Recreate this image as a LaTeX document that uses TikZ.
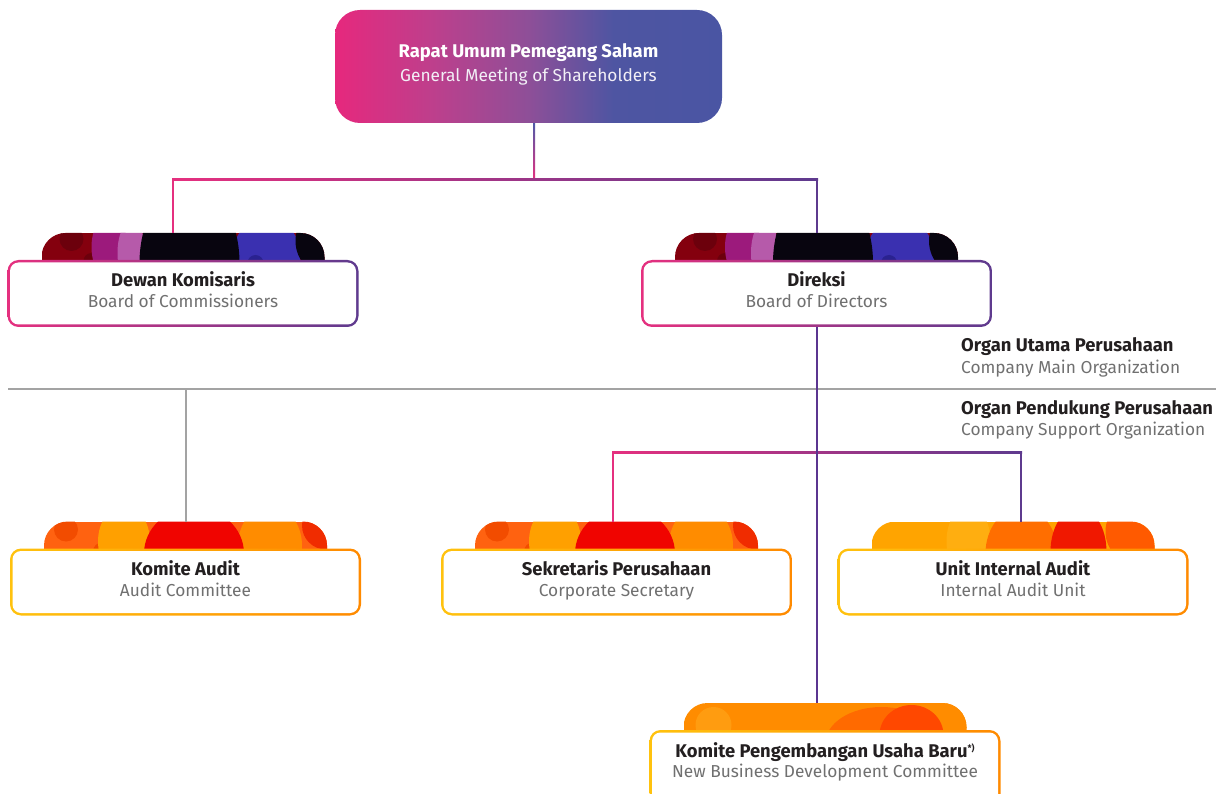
\documentclass[tikz,border=0pt]{standalone}
\usepackage{fontspec}
\setmainfont{Fira Sans}
\usetikzlibrary{calc,backgrounds}

% palette
\definecolor{ink}{HTML}{231F20}
\definecolor{subgray}{HTML}{707070}
\definecolor{rulegray}{HTML}{A3A3A3}
\definecolor{pinkc}{HTML}{E5307F}
\definecolor{bluec}{HTML}{4F5AA8}
\definecolor{purplec}{HTML}{5E3A8E}
\definecolor{stemc}{HTML}{5B3590}
\definecolor{goldc}{HTML}{FFC20E}
\definecolor{ambc}{HTML}{FFA800}
\definecolor{orgc}{HTML}{FF8A00}

% header box
\definecolor{r0}{HTML}{E6287D}\definecolor{r1}{HTML}{BE3F8C}
\definecolor{r2}{HTML}{8E4F98}\definecolor{r3}{HTML}{4E55A2}
\definecolor{r4}{HTML}{4A55A3}
\pgfdeclarehorizontalshading{rupsshade}{100bp}{color(0bp)=(r0); color(25bp)=(r0);
  color(37.5bp)=(r1); color(50bp)=(r2); color(61bp)=(r3); color(75bp)=(r4); color(100bp)=(r4)}

% blob colours of the tabs
\definecolor{dkred}{HTML}{84000E}\definecolor{dkred2}{HTML}{6C000C}
\definecolor{dkmag}{HTML}{9C1A7C}\definecolor{dkpink}{HTML}{B65AAA}
\definecolor{dkblack}{HTML}{08050F}\definecolor{dkblue}{HTML}{3A30B0}
\definecolor{dkblue2}{HTML}{2A2290}
\definecolor{orbase}{HTML}{FF6210}\definecolor{ordark}{HTML}{F24C00}
\definecolor{oryel}{HTML}{FFA000}\definecolor{orred}{HTML}{F00400}
\definecolor{ormid}{HTML}{FF8C00}\definecolor{orrr}{HTML}{F02C00}
\definecolor{uabase}{HTML}{FFA400}\definecolor{ualite}{HTML}{FFAE10}
\definecolor{uaor}{HTML}{FF6E00}\definecolor{uared}{HTML}{F01800}
\definecolor{uaend}{HTML}{FF5A00}
\definecolor{nbbase}{HTML}{FF8C00}\definecolor{nblite}{HTML}{FF9C10}
\definecolor{nbor}{HTML}{FF6A00}\definecolor{nbred}{HTML}{FF4800}

% blob patterns, drawn in tab coordinates (0..284 wide, top at 0)
\newcommand\darkblobs{%
  \fill[dkred] (0,0) rectangle (284,60);
  \fill[dkred2] (30,6) circle (12);
  \fill[dkred2] (50,28) circle (8);
  \fill[dkmag] (68,14) ellipse (18 and 32);
  \fill[dkpink] (90,20) ellipse (14 and 32);
  \fill[dkblue] (225,24) ellipse (34 and 40);
  \fill[dkblue2] (214,30) circle (8);
  \fill[dkblack] (148,30) ellipse (50 and 80);
  \fill[dkblack] (290,8) circle (36);
}
\newcommand\orangeblobs{%
  \fill[orbase] (0,0) rectangle (284,60);
  \fill[ordark] (22,8) circle (12);
  \fill[ordark] (58,30) circle (9);
  \fill[oryel] (80,20) ellipse (26 and 36);
  \fill[ormid] (226,24) ellipse (32 and 40);
  \fill[orred] (150,32) ellipse (50 and 46);
  \fill[orrr] (282,4) circle (24);
}
\newcommand\auditblobs{%
  \fill[uabase] (0,0) rectangle (284,60);
  \fill[ualite] (97,20) ellipse (22 and 36);
  \fill[uaor] (150,32) ellipse (36 and 46);
  \fill[uared] (207,30) ellipse (28 and 44);
  \fill[uaend] (268,10) circle (34);
}
\newcommand\newbizblobs{%
  \fill[nbbase] (0,0) rectangle (284,60);
  \fill[nblite] (30,22) circle (18);
  \fill[nbor] (198,40) ellipse (56 and 36);
  \fill[nbred] (228,32) ellipse (32 and 30);
  \fill[nbbase] (278,8) circle (18);
}

\tikzset{
  unitbox/.style={rectangle, minimum width=351pt, minimum height=67pt,
    inner sep=0pt, outer sep=0pt, rounded corners=11pt},
  mainedge/.style={left color=pinkc, middle color=bluec!80!purplec, right color=purplec},
  supportedge/.style={left color=goldc, middle color=ambc, right color=orgc},
  titletext/.style={anchor=base, text=ink, inner sep=0pt,
    font=\bfseries\fontsize{18.4}{21}\selectfont},
  subtext/.style={anchor=base, text=subgray, inner sep=0pt,
    font=\fontsize{17.3}{20}\selectfont},
  sidetitle/.style={titletext, anchor=base west},
  sidesub/.style={subtext, anchor=base west},
  pinkline/.style={line width=2pt, pinkc},
  purpleline/.style={line width=2pt, purplec},
  stemline/.style={line width=2pt, stemc},
  grayline/.style={line width=1.4pt, rulegray},
}

% one organ: name, centre, tab blobs, box style, title, subtitle
\newcommand\orgunit[6]{%
  \node[unitbox,#4] (#1) at (#2) {};
  \begin{pgfonlayer}{background}
    \begin{scope}
      \clip[rounded corners=24pt] ($(#1.north west)+(34,-27)$) rectangle ($(#1.north east)+(-34,30)$);
      \begin{scope}[shift={($(#1.north west)+(34,-27)$)}]
        #3
      \end{scope}
    \end{scope}
  \end{pgfonlayer}
  \fill[white, rounded corners=8.5pt] ($(#1.north west)+(2.5,2.5)$) rectangle ($(#1.south east)+(-2.5,-2.5)$);
  \node[titletext] (#1-title) at ($(#1.north)+(0,27)$) {#5};
  \node[subtext] (#1-sub) at ($(#1.north)+(0,47.5)$) {#6};
  \coordinate (#1-tab) at ($(#1.north)+(0,-27)$);
}

\begin{document}
\begin{tikzpicture}[x=1pt, y=-1pt]
\useasboundingbox (0,0) rectangle (1221,794);

% general meeting
\node[rectangle, minimum width=387pt, minimum height=113pt, inner sep=0pt,
  rounded corners=25pt, shading=rupsshade] (rups) at (528.5,66.5) {};
\node[titletext, text=white] (rups-title) at (528.5,58) {Rapat Umum Pemegang Saham};
\node[subtext, text=white!92!purplec] (rups-sub) at (528.5,82) {General Meeting of Shareholders};

% main organs
\orgunit{dk}{183,293.5}{\darkblobs}{mainedge}{Dewan Komisaris}{Board of Commissioners}
\orgunit{dir}{816.5,293.5}{\darkblobs}{mainedge}{Direksi}{Board of Directors}

% support organs
\orgunit{ka}{185.5,582}{\orangeblobs}{supportedge}{Komite Audit}{Audit Committee}
\orgunit{sek}{616.5,582}{\orangeblobs}{supportedge}{Sekretaris Perusahaan}{Corporate Secretary}
\orgunit{uia}{1013,582}{\auditblobs}{supportedge}{Unit Internal Audit}{Internal Audit Unit}
\orgunit{kpub}{825,767.5}{\newbizblobs}{supportedge, minimum height=75pt}{Komite Pengembangan Usaha Baru\raisebox{0.6ex}{\fontsize{9}{10}\selectfont *)}}{New Business Development Committee}

% junction points
\coordinate (jm) at (534,180);
\coordinate (jl) at (173,180);
\coordinate (jr) at (817,180);
\coordinate (bl) at (613,452);
\coordinate (br) at (1021,452);
\coordinate (gl) at (8,389);
\coordinate (gr) at (1216,389);
\coordinate (gk) at (186,389);

% divider between main and support organs
\draw[grayline] (gl) -- (gr);
\draw[grayline] (gk) -- (gk |- ka-tab);

% general meeting to the boards
\shade[top color=bluec, bottom color=pinkc] ($(rups.south -| jm)+(-1,0)$) rectangle ($(jm)+(1,0)$);
\shade[left color=pinkc, middle color=bluec, right color=purplec] ($(jl)+(-1,-1)$) rectangle ($(jr)+(1,1)$);
\draw[pinkline] (jl) -- (jl |- dk-tab);
\draw[purpleline] (jr) -- (jr |- dir-tab);

% board of directors to its units
\shade[left color=pinkc, middle color=bluec, right color=purplec] ($(bl)+(-1,-1)$) rectangle ($(br)+(1,1)$);
\draw[pinkline] (bl) -- (bl |- sek-tab);
\draw[purpleline] (br) -- (br |- uia-tab);
\draw[stemline] (dir.south) -- (dir.south |- kpub-tab);

% side labels
\node[sidetitle] (main-title) at (961,352) {Organ Utama Perusahaan};
\node[sidesub] (main-sub) at (961,373) {Company Main Organization};
\node[sidetitle] (supp-title) at (961,414) {Organ Pendukung Perusahaan};
\node[sidesub] (supp-sub) at (961,435) {Company Support Organization};
\end{tikzpicture}
\end{document}
